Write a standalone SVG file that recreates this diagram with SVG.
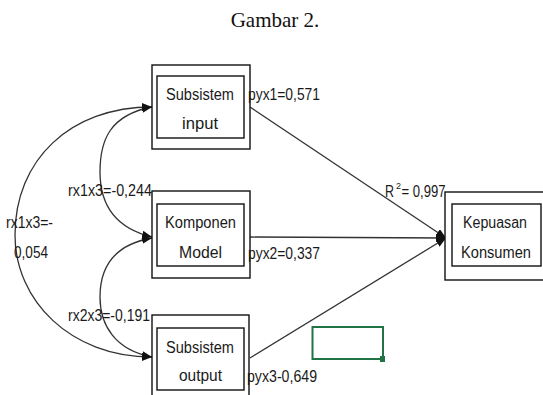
<svg xmlns="http://www.w3.org/2000/svg" width="543" height="395" viewBox="0 0 543 395">
<style>
.box{fill:#fff;stroke:#111;stroke-width:1.4}
.t{font-family:"Liberation Sans",Arial,sans-serif;font-size:16px;fill:#1a1a1a}
.c{text-anchor:middle}
.ln{fill:none;stroke:#333;stroke-width:1.3}
</style>
<defs>
<marker id="ah" viewBox="0 0 10 8" refX="10" refY="4" markerWidth="10" markerHeight="8" markerUnits="userSpaceOnUse" orient="auto-start-reverse">
<path d="M0,0 L10,4 L0,8 Z" fill="#111"/>
</marker>
</defs>
<rect width="543" height="395" fill="#fff"/>
<text x="275" y="27" font-family="'Liberation Serif','Times New Roman',serif" font-size="21" fill="#111" text-anchor="middle">Gambar 2.</text>

<g id="connectors">
<path class="ln" d="M152,107 C70,107 15,160 15,235 C15,300 70,357 152,357" marker-start="url(#ah)" marker-end="url(#ah)"/>
<path class="ln" d="M152,107 C110,115 100,140 100,172 C100,205 115,228 152,237" marker-start="url(#ah)" marker-end="url(#ah)"/>
<path class="ln" d="M152,238 C112,245 100,270 100,297 C100,325 115,350 152,357" marker-start="url(#ah)" marker-end="url(#ah)"/>
<line class="ln" x1="250" y1="107" x2="446" y2="238" marker-end="url(#ah)"/>
<line class="ln" x1="250" y1="237" x2="446" y2="238" marker-end="url(#ah)"/>
<line class="ln" x1="250" y1="358" x2="446" y2="238" marker-end="url(#ah)"/>
</g>

<g id="node-subsistem-input">
<rect class="box" x="152" y="65" width="98" height="84"/>
<rect class="box" x="157" y="76" width="87" height="62"/>
<text class="t c" x="200" y="100" textLength="68" lengthAdjust="spacingAndGlyphs">Subsistem</text>
<text class="t c" x="200" y="129" textLength="36" lengthAdjust="spacingAndGlyphs">input</text>
</g>

<g id="node-komponen-model">
<rect class="box" x="152" y="191" width="98" height="87"/>
<rect class="box" x="157" y="204" width="87" height="62"/>
<text class="t c" x="200.5" y="228" textLength="71" lengthAdjust="spacingAndGlyphs">Komponen</text>
<text class="t c" x="200.5" y="258" textLength="43" lengthAdjust="spacingAndGlyphs">Model</text>
</g>

<g id="node-subsistem-output">
<rect class="box" x="152" y="315" width="97" height="90"/>
<rect class="box" x="157" y="328" width="87" height="62"/>
<text class="t c" x="200" y="353" textLength="68" lengthAdjust="spacingAndGlyphs">Subsistem</text>
<text class="t c" x="200.5" y="381" textLength="43" lengthAdjust="spacingAndGlyphs">output</text>
</g>

<g id="node-kepuasan-konsumen">
<rect class="box" x="445" y="192" width="105" height="88"/>
<rect class="box" x="452" y="204" width="89" height="62"/>
<text class="t c" x="495" y="228" textLength="64" lengthAdjust="spacingAndGlyphs">Kepuasan</text>
<text class="t c" x="496" y="258" textLength="70" lengthAdjust="spacingAndGlyphs">Konsumen</text>
</g>

<g id="labels">
<text class="t" x="248" y="100" textLength="72" lengthAdjust="spacingAndGlyphs">pyx1=0,571</text>
<text class="t" x="248" y="259" textLength="72" lengthAdjust="spacingAndGlyphs">pyx2=0,337</text>
<text class="t" x="247" y="382" textLength="70" lengthAdjust="spacingAndGlyphs">pyx3-0,649</text>
<text class="t" y="197"><tspan x="385" textLength="9" lengthAdjust="spacingAndGlyphs">R</tspan><tspan x="396" y="189" style="font-size:9px">2</tspan><tspan x="401.5" y="197" textLength="44" lengthAdjust="spacingAndGlyphs">= 0,997</tspan></text>
<text class="t" x="68" y="196" textLength="84" lengthAdjust="spacingAndGlyphs">rx1x3=-0,244</text>
<text class="t" x="6" y="228" textLength="47" lengthAdjust="spacingAndGlyphs">rx1x3=-</text>
<text class="t" x="14" y="258" textLength="34" lengthAdjust="spacingAndGlyphs">0,054</text>
<text class="t" x="68" y="321" textLength="82" lengthAdjust="spacingAndGlyphs">rx2x3=-0,191</text>
</g>

<g id="selection">
<rect x="312.5" y="327" width="70.5" height="32" fill="none" stroke="#217346" stroke-width="2"/>
<rect x="380" y="356" width="5" height="6" fill="#217346"/>
</g>
</svg>
